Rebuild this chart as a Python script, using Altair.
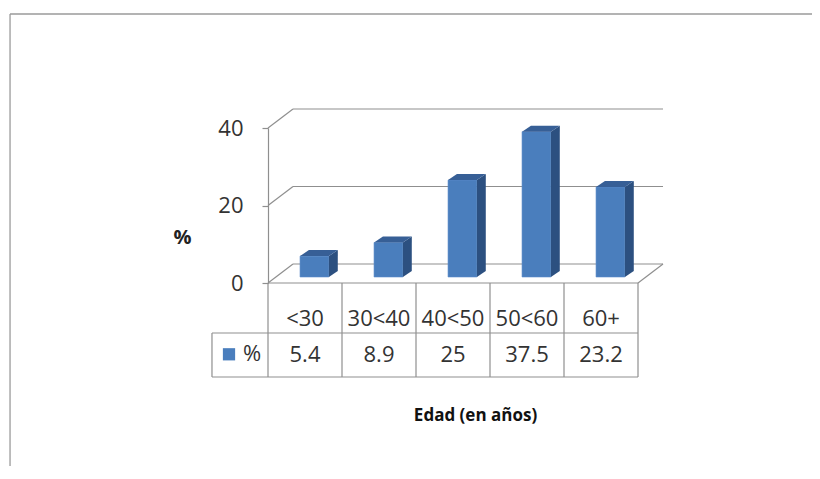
import altair as alt
import pandas as pd

# ---- data ----
categories = ["<30", "30<40", "40<50", "50<60", "60+"]
values = [5.4, 8.9, 25, 37.5, 23.2]
y_ticks = [0, 20, 40]
series_name = "%"
x_title = "Edad (en años)"
y_title = "%"

# ---- style constants (3D look & layout, in scale units) ----
FONT = "Open Sans"
DX, DY = 0.338, 4.9        # depth of the floor / back wall
FX, FY = 0.128, 1.55       # bar front face offset into depth
SX, SY = 0.12, 1.55        # bar depth
BW = 0.39                  # bar width (fraction of a column)
ROW1, ROW2 = -12.9, -24.26 # table row bottoms
TL = -0.757                # table left edge (legend cell)
C_FRONT, C_SIDE, C_TOP = "#4a7ebd", "#2c5080", "#375f96"
GRID = "#8f8f8f"
N = len(categories)

xs = alt.Scale(domain=[0, N], nice=False, zero=False)
ys = alt.Scale(domain=[0, 40], nice=False, zero=False)

XAX = alt.Axis(
    title=x_title, labels=False, ticks=False, domain=False, grid=False,
    titleFont=FONT, titleFontSize=17, titleFontWeight="bold", titleColor="#111",
    titleX=207, titleY=132, titleAlign="center", titleBaseline="middle")
YAX = alt.Axis(
    values=y_ticks, title=y_title, grid=False, domainColor=GRID, domainWidth=1.2,
    tickColor=GRID, tickSize=6, tickWidth=1.2, labelPadding=19,
    labelFont=FONT, labelFontSize=22, labelColor="#333",
    titleFont=FONT, titleFontSize=20, titleFontWeight="bold", titleColor="#222",
    titleAngle=0, titleX=-86, titleY=109, titleAlign="center", titleBaseline="middle")


def X(field, **kw):
    return alt.X(field, scale=xs, axis=XAX, title=x_title, **kw)


def Y(field, **kw):
    return alt.Y(field, scale=ys, axis=YAX, title=y_title, **kw)


# ---- tables built from the arrays ----
bars = pd.DataFrame({"cat": categories, "v": values, "i": range(N)})
bars["xl"] = bars["i"] + 0.5 + FX - BW / 2
bars["xr"] = bars["xl"] + BW
bars["y0"] = FY
bars["y1"] = bars["v"] + FY

side_rows, top_rows = [], []
for _, r in bars.iterrows():
    side_rows.append({"id": r["i"], "x": r["xr"], "lo": FY, "hi": r["y1"]})
    side_rows.append({"id": r["i"], "x": r["xr"] + SX, "lo": FY + SY, "hi": r["y1"] + SY})
    top_rows.append({"id": r["i"], "y": r["y1"], "xa": r["xl"], "xb": r["xr"]})
    top_rows.append({"id": r["i"], "y": r["y1"] + SY, "xa": r["xl"] + SX, "xb": r["xr"] + SX})
side = pd.DataFrame(side_rows)
top = pd.DataFrame(top_rows)

lines = []
for t in y_ticks:
    lines.append({"x": DX, "y": t + DY, "x2": N + DX, "y2": t + DY})   # back gridline
    lines.append({"x": 0, "y": t, "x2": DX, "y2": t + DY})              # left wall diagonal
lines.append({"x": N, "y": 0, "x2": N + DX, "y2": DY})                  # floor right edge
lines.append({"x": 0, "y": 0, "x2": N, "y2": 0})                        # floor front edge
for k in range(N + 1):
    lines.append({"x": k, "y": 0, "x2": k, "y2": ROW2})                 # table verticals
lines.append({"x": TL, "y": ROW1, "x2": TL, "y2": ROW2})
lines.append({"x": TL, "y": ROW1, "x2": N, "y2": ROW1})
lines.append({"x": TL, "y": ROW2, "x2": N, "y2": ROW2})
grid = pd.DataFrame(lines)

frame = pd.DataFrame([
    {"x": -3.486, "y": 69.42, "x2": 7.8, "y2": 69.42},
    {"x": -3.486, "y": 69.42, "x2": -3.486, "y2": -60},
])

table = pd.DataFrame({
    "x": [i + 0.5 for i in range(N)],
    "cat": categories,
    "val": [f"{v:g}" for v in values],
    "ycat": [-9.29] * N,
    "yval": [-18.58] * N,
})

legend_df = pd.DataFrame({"x": [-0.527], "y": [-18.4], "tx": [-0.216], "name": [series_name]})

# ---- layers ----
frame_l = alt.Chart(frame).mark_rule(color="#9a9a9a", strokeWidth=1.3).encode(
    x=X("x:Q"), y=Y("y:Q"), x2="x2:Q", y2="y2:Q")

grid_l = alt.Chart(grid).mark_rule(color=GRID, strokeWidth=1.2).encode(
    x=X("x:Q"), y=Y("y:Q"), x2="x2:Q", y2="y2:Q")

front_l = alt.Chart(bars).mark_rect(color=C_FRONT, stroke="#5a8ccb", strokeWidth=0.6).encode(
    x=X("xl:Q"), x2="xr:Q", y=Y("y0:Q"), y2="y1:Q")

side_l = alt.Chart(side).mark_area(color=C_SIDE, interpolate="linear").encode(
    x=X("x:Q"), y=Y("lo:Q", stack=False), y2="hi:Q", detail="id:N")

top_l = alt.Chart(top).mark_area(color=C_TOP, orient="horizontal", interpolate="linear").encode(
    y=Y("y:Q"), x=X("xa:Q", stack=False), x2="xb:Q", detail="id:N")

cat_l = alt.Chart(table).mark_text(font=FONT, fontSize=22, color="#333", baseline="middle").encode(
    x=X("x:Q"), y=Y("ycat:Q"), text="cat:N")
val_l = alt.Chart(table).mark_text(font=FONT, fontSize=22, color="#333", baseline="middle").encode(
    x=X("x:Q"), y=Y("yval:Q"), text="val:N")

swatch_l = alt.Chart(legend_df).mark_square(color=C_FRONT, size=150, opacity=1).encode(
    x=X("x:Q"), y=Y("y:Q"))
leg_text_l = alt.Chart(legend_df).mark_text(font=FONT, fontSize=22, color="#333", baseline="middle").encode(
    x=X("tx:Q"), y=Y("y:Q"), text="name:N")

chart = alt.layer(
    frame_l, grid_l, front_l, side_l, top_l, cat_l, val_l, swatch_l, leg_text_l
).properties(
    width=370, height=155,
    autosize=alt.AutoSizeParams(type="none"),
    padding={"left": 260, "top": 120, "right": 174, "bottom": 183},
    background="white",
).configure_view(stroke=None)

chart.save("out.html", embed_options={"renderer": "svg", "actions": False})
